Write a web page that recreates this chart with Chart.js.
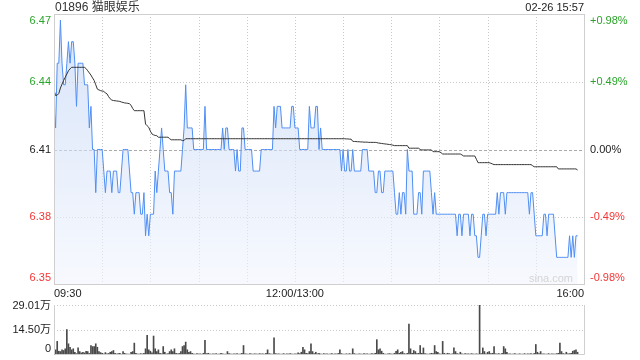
<!DOCTYPE html>
<html>
<head>
<meta charset="utf-8">
<script src="https://cdn.jsdelivr.net/npm/chart.js@4.4.1/dist/chart.umd.min.js"></script>
<style>
    body { margin: 0; background: #fff; }
    #wrap { position: relative; width: 640px; height: 360px; overflow: hidden; }
    #priceChart { position: absolute; left: 0; top: 0; width: 640px; height: 300px; }
    #volChart { position: absolute; left: 0; top: 300px; width: 640px; height: 60px; }
</style>
</head>
<body>
<div id="wrap">
    <canvas id="priceChart" width="640" height="300"></canvas>
    <canvas id="volChart" width="640" height="60"></canvas>
</div>
<script>
const stockTitle = "01896 猫眼娱乐";
const stampText = "02-26 15:57";
const prevClose = 6.41;
const pctTicks = [0.98, 0.49, 0, -0.49, -0.98];
const priceTickLabels = ["6.47", "6.44", "6.41", "6.38", "6.35"];
const pctTickLabels = ["+0.98%", "+0.49%", "0.00%", "-0.49%", "-0.98%"];
const gridMinutes = [30, 60, 90, 120, 150, 180, 210, 240, 270, 300];
const timeTickMinutes = [0, 150, 330];
const timeTickLabels = ["09:30", "12:00/13:00", "16:00"];
const volTicks = [29.01, 14.50, 0];
const volTickLabels = ["29.01万", "14.50万", "0"];

// one value per minute from 09:30
const prices = [
    6.43, 6.42, 6.45, 6.45, 6.47, 6.45, 6.44, 6.44, 6.45, 6.46,
    6.45, 6.46, 6.46, 6.45, 6.43, 6.45, 6.45, 6.45, 6.45, 6.44,
    6.44, 6.44, 6.42, 6.43, 6.41, 6.41, 6.39, 6.41, 6.41, 6.41,
    6.41, 6.40, 6.39, 6.40, 6.40, 6.40, 6.39, 6.40, 6.40, 6.40,
    6.39, 6.39, 6.40, 6.41, 6.41, 6.41, 6.41, 6.40, 6.39, 6.39,
    6.38, 6.39, 6.39, 6.39, 6.38, 6.38, 6.39, 6.37, 6.38, 6.37,
    6.38, 6.38, 6.38, 6.40, 6.39, 6.40, 6.41, 6.42, 6.41, 6.40,
    6.40, 6.40, 6.39, 6.39, 6.38, 6.40, 6.40, 6.40, 6.40, 6.40,
    6.41, 6.42, 6.44, 6.42, 6.42, 6.42, 6.42, 6.41, 6.41, 6.41,
    6.41, 6.41, 6.41, 6.41, 6.43, 6.41, 6.41, 6.41, 6.41, 6.41,
    6.41, 6.41, 6.41, 6.41, 6.41, 6.42, 6.41, 6.42, 6.42, 6.41,
    6.41, 6.41, 6.41, 6.40, 6.41, 6.40, 6.40, 6.42, 6.42, 6.41,
    6.41, 6.41, 6.41, 6.41, 6.40, 6.40, 6.40, 6.40, 6.40, 6.41,
    6.41, 6.41, 6.41, 6.41, 6.41, 6.41, 6.41, 6.43, 6.42, 6.43,
    6.43, 6.43, 6.42, 6.42, 6.42, 6.42, 6.42, 6.42, 6.43, 6.43,
    6.42, 6.42, 6.42, 6.41, 6.41, 6.41, 6.41, 6.41, 6.41, 6.43,
    6.42, 6.42, 6.42, 6.43, 6.43, 6.41, 6.42, 6.41, 6.41, 6.41,
    6.41, 6.41, 6.41, 6.41, 6.41, 6.41, 6.41, 6.41, 6.41, 6.40,
    6.41, 6.40, 6.40, 6.41, 6.40, 6.40, 6.41, 6.40, 6.40, 6.40,
    6.40, 6.40, 6.41, 6.41, 6.41, 6.41, 6.40, 6.40, 6.40, 6.40,
    6.39, 6.39, 6.40, 6.40, 6.39, 6.39, 6.40, 6.40, 6.40, 6.40,
    6.40, 6.40, 6.39, 6.38, 6.38, 6.39, 6.38, 6.39, 6.39, 6.38,
    6.41, 6.40, 6.40, 6.40, 6.38, 6.38, 6.38, 6.39, 6.39, 6.38,
    6.40, 6.40, 6.40, 6.40, 6.40, 6.39, 6.38, 6.39, 6.38, 6.38,
    6.38, 6.38, 6.38, 6.38, 6.38, 6.38, 6.38, 6.38, 6.38, 6.38,
    6.38, 6.37, 6.38, 6.38, 6.37, 6.38, 6.38, 6.38, 6.38, 6.37,
    6.38, 6.38, 6.37, 6.37, 6.36, 6.36, 6.37, 6.38, 6.38, 6.37,
    6.38, 6.38, 6.38, 6.38, 6.38, 6.38, 6.39, 6.38, 6.39, 6.39,
    6.39, 6.38, 6.39, 6.39, 6.39, 6.39, 6.39, 6.39, 6.39, 6.39,
    6.39, 6.39, 6.39, 6.39, 6.39, 6.39, 6.38, 6.39, 6.39, 6.38,
    6.37, 6.37, 6.37, 6.37, 6.37, 6.38, 6.38, 6.37, 6.38, 6.38,
    6.38, 6.38, 6.37, 6.36, 6.36, 6.36, 6.36, 6.36, 6.36, 6.36,
    6.36, 6.37, 6.36, 6.37, 6.36, 6.37, 6.37
];

const avgPrices = [
    6.4376, 6.4350, 6.4352, 6.4360, 6.4385, 6.4403, 6.4420, 6.4435, 6.4450, 6.4465,
    6.4474, 6.4481, 6.4481, 6.4481, 6.4481, 6.4481, 6.4481, 6.4481, 6.4481, 6.4481,
    6.4475, 6.4465, 6.4455, 6.4445, 6.4432, 6.4420, 6.4400, 6.4380, 6.4376, 6.4373,
    6.4371, 6.4370, 6.4362, 6.4358, 6.4345, 6.4335, 6.4329, 6.4327, 6.4326, 6.4325,
    6.4324, 6.4323, 6.4320, 6.4318, 6.4316, 6.4315, 6.4314, 6.4312, 6.4305, 6.4290,
    6.4280, 6.4280, 6.4280, 6.4280, 6.4280, 6.4280, 6.4280, 6.4218, 6.4210, 6.4203,
    6.4185, 6.4172, 6.4168, 6.4165, 6.4164, 6.4157, 6.4157, 6.4157, 6.4157, 6.4157,
    6.4157, 6.4157, 6.4150, 6.4145, 6.4145, 6.4145, 6.4145, 6.4145, 6.4145, 6.4145,
    6.4141, 6.4142, 6.4150, 6.4150, 6.4150, 6.4150, 6.4150, 6.4150, 6.4150, 6.4150,
    6.4150, 6.4150, 6.4150, 6.4150, 6.4150, 6.4150, 6.4150, 6.4150, 6.4150, 6.4150,
    6.4150, 6.4150, 6.4150, 6.4150, 6.4150, 6.4150, 6.4150, 6.4150, 6.4150, 6.4150,
    6.4150, 6.4150, 6.4150, 6.4150, 6.4150, 6.4150, 6.4150, 6.4150, 6.4150, 6.4150,
    6.4150, 6.4150, 6.4150, 6.4150, 6.4150, 6.4150, 6.4150, 6.4150, 6.4150, 6.4150,
    6.4150, 6.4150, 6.4150, 6.4150, 6.4150, 6.4150, 6.4150, 6.4150, 6.4150, 6.4150,
    6.4150, 6.4150, 6.4150, 6.4150, 6.4150, 6.4150, 6.4150, 6.4150, 6.4150, 6.4150,
    6.4150, 6.4150, 6.4150, 6.4150, 6.4150, 6.4150, 6.4150, 6.4150, 6.4150, 6.4150,
    6.4150, 6.4150, 6.4150, 6.4150, 6.4150, 6.4150, 6.4150, 6.4150, 6.4150, 6.4150,
    6.4150, 6.4150, 6.4150, 6.4150, 6.4150, 6.4150, 6.4150, 6.4150, 6.4150, 6.4150,
    6.4150, 6.4150, 6.4149, 6.4149, 6.4148, 6.4148, 6.4138, 6.4137, 6.4137, 6.4136,
    6.4136, 6.4135, 6.4135, 6.4134, 6.4134, 6.4134, 6.4133, 6.4133, 6.4133, 6.4133,
    6.4133, 6.4132, 6.4130, 6.4129, 6.4128, 6.4127, 6.4126, 6.4125, 6.4124, 6.4123,
    6.4122, 6.4120, 6.4118, 6.4118, 6.4118, 6.4118, 6.4118, 6.4118, 6.4118, 6.4118,
    6.4118, 6.4106, 6.4106, 6.4106, 6.4106, 6.4106, 6.4106, 6.4106, 6.4100, 6.4098,
    6.4098, 6.4098, 6.4098, 6.4098, 6.4098, 6.4098, 6.4090, 6.4090, 6.4090, 6.4090,
    6.4090, 6.4085, 6.4079, 6.4079, 6.4079, 6.4079, 6.4079, 6.4079, 6.4079, 6.4079,
    6.4079, 6.4079, 6.4079, 6.4079, 6.4075, 6.4070, 6.4070, 6.4070, 6.4070, 6.4070,
    6.4070, 6.4070, 6.4070, 6.4055, 6.4039, 6.4039, 6.4039, 6.4039, 6.4039, 6.4039,
    6.4039, 6.4039, 6.4036, 6.4033, 6.4030, 6.4030, 6.4030, 6.4030, 6.4030, 6.4030,
    6.4030, 6.4030, 6.4030, 6.4030, 6.4030, 6.4030, 6.4030, 6.4030, 6.4030, 6.4030,
    6.4030, 6.4030, 6.4030, 6.4030, 6.4030, 6.4030, 6.4030, 6.4030, 6.4025, 6.4020,
    6.4020, 6.4020, 6.4020, 6.4020, 6.4020, 6.4020, 6.4020, 6.4020, 6.4020, 6.4020,
    6.4020, 6.4020, 6.4020, 6.4020, 6.4010, 6.4010, 6.4010, 6.4010, 6.4010, 6.4010,
    6.4010, 6.4010, 6.4010, 6.4010, 6.4010, 6.4010, 6.4005
];

// volume in 万 shares
const volumes = [
    1.6, 3.0, 7.9, 2.2, 2.0, 3.0, 2.6, 3.6, 14.8, 6.5,
    4.5, 3.0, 3.6, 1.6, 0.8, 4.1, 2.0, 1.2, 1.6, 1.2,
    2.2, 2.0, 0.9, 5.5, 4.9, 4.9, 6.5, 4.5, 2.0, 1.4,
    1.0, 0.6, 1.4, 0.7, 0.9, 1.6, 2.0, 2.6, 1.0, 0.6,
    0.8, 1.0, 0.5, 2.0, 1.0, 0.6, 0.6, 0.5, 1.6, 2.0,
    6.9, 1.0, 0.6, 0.5, 0.8, 0.6, 0.9, 3.6, 11.4, 3.0,
    2.2, 1.2, 11.0, 3.6, 2.0, 3.0, 1.0, 0.7, 4.9, 1.6,
    0.6, 0.8, 2.0, 3.0, 2.0, 3.6, 1.0, 0.7, 0.9, 2.0,
    4.9, 5.5, 7.5, 3.0, 1.6, 2.0, 1.0, 0.6, 0.5, 0.8,
    0.6, 0.7, 0.5, 1.0, 8.5, 0.8, 1.0, 0.6, 0.5, 0.7,
    0.6, 0.8, 0.5, 0.6, 0.9, 0.7, 0.5, 0.6, 2.0, 0.8,
    0.6, 0.5, 0.7, 0.6, 0.8, 0.5, 0.6, 0.9, 5.5, 0.7,
    0.6, 0.5, 0.8, 0.6, 0.5, 0.7, 0.6, 0.5, 0.8, 0.6,
    0.7, 0.5, 0.9, 3.0, 0.8, 0.6, 0.5, 10.0, 0.8, 0.6,
    0.7, 0.5, 0.6, 0.8, 0.5, 0.7, 0.6, 0.8, 0.6, 0.5,
    0.7, 0.6, 1.2, 0.8, 1.6, 4.5, 3.0, 1.0, 0.8, 2.0,
    6.5, 2.0, 0.8, 1.6, 0.7, 1.0, 0.6, 0.5, 0.8, 0.6,
    0.7, 0.5, 0.6, 0.8, 0.5, 0.7, 0.6, 0.9, 3.0, 0.8,
    0.6, 0.5, 0.7, 0.6, 0.8, 0.6, 3.6, 0.8, 0.6, 0.5,
    0.7, 0.6, 0.5, 0.8, 0.6, 0.7, 0.5, 0.6, 0.8, 0.6,
    1.0, 8.9, 3.0, 3.6, 2.2, 1.0, 0.6, 0.5, 0.7, 0.8,
    0.6, 0.5, 1.0, 2.2, 3.0, 1.0, 1.6, 2.0, 0.8, 0.6,
    1.0, 18.0, 3.6, 1.0, 2.6, 2.0, 0.8, 1.0, 5.5, 1.0,
    4.1, 0.8, 0.6, 0.5, 0.7, 1.0, 0.8, 5.5, 2.0, 1.6,
    0.7, 0.6, 7.9, 1.0, 0.6, 1.0, 0.8, 0.5, 0.7, 4.1,
    2.0, 0.8, 0.6, 1.6, 0.7, 0.5, 0.8, 0.6, 0.7, 0.5,
    0.8, 0.6, 0.5, 0.7, 0.6, 29.01, 0.8, 4.1, 2.0, 0.7,
    1.6, 2.0, 0.8, 1.0, 4.9, 0.7, 0.6, 0.8, 0.5, 1.0,
    4.9, 3.6, 1.6, 0.6, 0.7, 0.5, 0.6, 0.8, 0.5, 0.6,
    0.7, 0.5, 0.6, 0.8, 0.5, 0.7, 0.6, 0.8, 0.5, 0.9,
    6.1, 1.6, 0.8, 2.0, 0.6, 0.7, 0.5, 0.6, 0.8, 0.5,
    0.7, 0.6, 0.5, 0.8, 1.0, 6.9, 2.0, 0.8, 0.6, 1.6,
    0.7, 0.8, 1.0, 2.2, 2.6, 3.0, 1.6
];

const GREEN = "#2aa52a";
const RED = "#f53535";
const FONT = '11px "Liberation Sans", Arial, "Noto Sans CJK SC", sans-serif';
const TITLE_FONT = '12px "Liberation Sans", Arial, "Noto Sans CJK SC", sans-serif';

const yMin = prevClose * (1 - pctTicks[0] / 100);
const yMax = prevClose * (1 + pctTicks[0] / 100);

function tickColor(i) {
    if (pctTicks[i] > 0) return GREEN;
    if (pctTicks[i] < 0) return RED;
    return "#222";
}

function line(ctx, x1, y1, x2, y2, color, dash) {
    ctx.strokeStyle = color;
    ctx.setLineDash(dash || []);
    ctx.beginPath();
    ctx.moveTo(x1, y1);
    ctx.lineTo(x2, y2);
    ctx.stroke();
}

function clamp(v, lo, hi) {
    return Math.min(Math.max(v, lo), hi);
}

const priceDecor = {
    id: "priceDecor",
    beforeDatasetsDraw(chart) {
        const { ctx, chartArea: a, scales: { x, y } } = chart;
        ctx.save();
        ctx.lineWidth = 1;
        gridMinutes.forEach(m => {
            const px = Math.round(x.getPixelForValue(m)) + 0.5;
            line(ctx, px, a.top, px, a.bottom, "#c8c8c8", [1, 2]);
        });
        pctTicks.slice(1, -1).forEach(p => {
            const py = Math.round(y.getPixelForValue(prevClose * (1 + p / 100))) + 0.5;
            if (p === 0) line(ctx, a.left, py, a.right, py, "#aaa", [3, 2]);
            else line(ctx, a.left, py, a.right, py, "#c8c8c8", [1, 2]);
        });
        ctx.restore();
    },
    afterDraw(chart) {
        const { ctx, chartArea: a, scales: { x, y } } = chart;
        ctx.save();
        ctx.lineWidth = 1;
        ctx.setLineDash([]);
        ctx.strokeStyle = "#cfcfcf";
        ctx.strokeRect(Math.round(a.left) + 0.5, Math.round(a.top) + 0.5,
            Math.round(a.right - a.left), Math.round(a.bottom - a.top) - 1);

        ctx.font = FONT;
        ctx.textBaseline = "middle";
        pctTicks.forEach((p, i) => {
            const py = clamp(y.getPixelForValue(prevClose * (1 + p / 100)), a.top + 6.5, a.bottom - 7.5);
            ctx.fillStyle = tickColor(i);
            ctx.textAlign = "right";
            ctx.fillText(priceTickLabels[i], a.left - 3, py);
            ctx.textAlign = "left";
            ctx.fillText(pctTickLabels[i], a.right + 6, py);
        });

        ctx.fillStyle = "#222";
        timeTickMinutes.forEach((m, i) => {
            ctx.textAlign = i === 0 ? "left" : (i === timeTickMinutes.length - 1 ? "right" : "center");
            ctx.fillText(timeTickLabels[i], x.getPixelForValue(m), a.bottom + 9);
        });

        ctx.textAlign = "right";
        ctx.fillText(stampText, a.right, 7.5);
        ctx.font = TITLE_FONT;
        ctx.textAlign = "left";
        ctx.fillStyle = "#333";
        ctx.fillText(stockTitle, a.left + 1, 7.5);

        ctx.font = FONT;
        ctx.fillStyle = "#d4d4d4";
        ctx.textAlign = "right";
        ctx.fillText("sina.com", a.right - 11, a.bottom - 6);
        ctx.restore();
    }
};

const volDecor = {
    id: "volDecor",
    beforeDatasetsDraw(chart) {
        const { ctx, chartArea: a, scales: { y } } = chart;
        ctx.save();
        ctx.lineWidth = 1;
        volTicks.slice(0, -1).forEach(v => {
            const py = Math.round(y.getPixelForValue(v)) + 0.5;
            line(ctx, a.left, py, a.right, py, "#c8c8c8", [1, 2]);
        });
        ctx.restore();
    },
    afterDraw(chart) {
        const { ctx, chartArea: a, scales: { y } } = chart;
        ctx.save();
        ctx.lineWidth = 1;
        const l = Math.round(a.left) + 0.5, r = Math.round(a.right) + 0.5, b = Math.round(a.bottom) - 0.5;
        line(ctx, l, a.top, l, b, "#cfcfcf");
        line(ctx, r, a.top, r, b, "#cfcfcf");
        line(ctx, l, b, r, b, "#cfcfcf");

        ctx.font = FONT;
        ctx.textBaseline = "middle";
        ctx.textAlign = "right";
        ctx.fillStyle = "#222";
        volTicks.forEach((v, i) => {
            const py = clamp(y.getPixelForValue(v), a.top + 1, a.bottom - 6);
            ctx.fillText(volTickLabels[i], a.left - 3, py);
        });
        ctx.restore();
    }
};

new Chart(document.getElementById("priceChart"), {
    type: "line",
    data: {
        datasets: [
            {
                data: avgPrices.map((v, i) => ({ x: i, y: v })),
                borderColor: "#333",
                borderWidth: 1,
                pointRadius: 0,
                tension: 0,
                fill: false
            },
            {
                data: prices.map((v, i) => ({ x: i, y: v })),
                borderColor: "#4f8ef3",
                borderWidth: 1,
                pointRadius: 0,
                tension: 0,
                fill: "start",
                backgroundColor: function (context) {
                    const { ctx, chartArea } = context.chart;
                    if (!chartArea) return null;
                    const g = ctx.createLinearGradient(0, chartArea.top, 0, chartArea.bottom);
                    g.addColorStop(0, "rgba(188,210,245,0.6)");
                    g.addColorStop(1, "rgba(242,245,253,0.6)");
                    return g;
                }
            }
        ]
    },
    options: {
        responsive: false,
        animation: false,
        devicePixelRatio: 1,
        layout: { padding: { top: 14, left: 54, right: 56, bottom: 15 } },
        plugins: { legend: { display: false }, tooltip: { enabled: false } },
        scales: {
            x: { type: "linear", min: 0, max: 330, display: false },
            y: { min: yMin, max: yMax, display: false }
        }
    },
    plugins: [priceDecor]
});

new Chart(document.getElementById("volChart"), {
    type: "bar",
    data: {
        datasets: [{
            data: volumes.map((v, i) => ({ x: i, y: v })),
            backgroundColor: "#4a4a4a",
            barThickness: 1
        }]
    },
    options: {
        responsive: false,
        animation: false,
        devicePixelRatio: 1,
        layout: { padding: { top: 5, left: 54, right: 56, bottom: 5 } },
        plugins: { legend: { display: false }, tooltip: { enabled: false } },
        scales: {
            x: { type: "linear", min: 0, max: 330, offset: false, display: false },
            y: { min: 0, max: volTicks[0], display: false }
        }
    },
    plugins: [volDecor]
});
</script>
</body>
</html>
